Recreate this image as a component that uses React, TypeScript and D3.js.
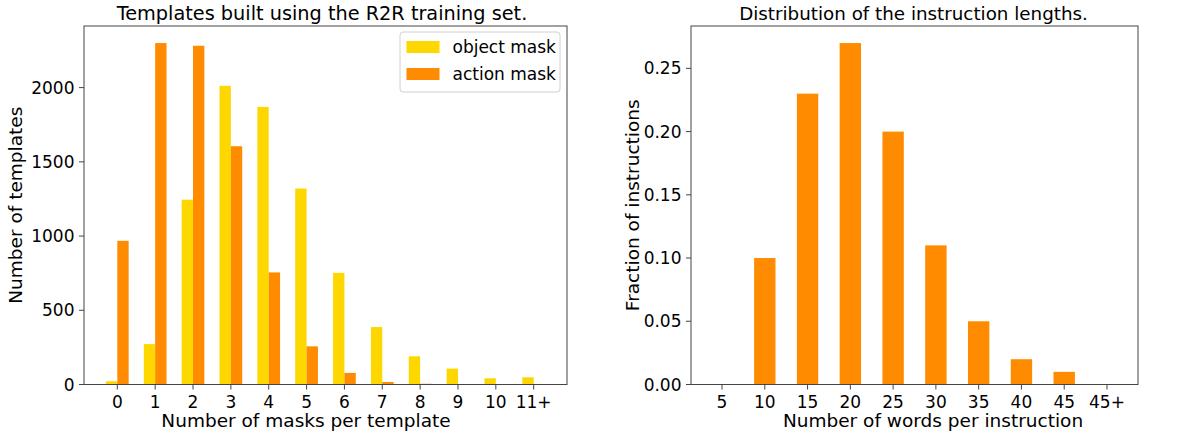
import React from "react";
import * as d3 from "d3";

const W = 1180;
const H = 436;

// Left chart data
const maskCategories = ["0", "1", "2", "3", "4", "5", "6", "7", "8", "9", "10", "11+"];
const objectMask = [22, 272, 1245, 2012, 1870, 1320, 752, 387, 190, 107, 42, 49];
const actionMask = [968, 2300, 2282, 1605, 755, 257, 78, 17, 5, 0, 0, 0];
const leftYTicks = [0, 500, 1000, 1500, 2000];

// Right chart data
const wordCategories = ["5", "10", "15", "20", "25", "30", "35", "40", "45", "45+"];
const wordFractions = [0, 0.1, 0.23, 0.27, 0.2, 0.11, 0.05, 0.02, 0.01, 0];
const rightYTicks = [0, 0.05, 0.1, 0.15, 0.2, 0.25];

const GOLD = "#FFD700";
const ORANGE = "#FF8C00";
const FONT = "DejaVu Sans, sans-serif";
const AXIS = "#444";
const TICK_FS = 17;
const LABEL_FS = 18.5;
const TITLE_FS_L = 19.3;
const TITLE_FS_R = 18.3;

const TOP = 26;
const BOTTOM = 384.5;

function Frame({ x0, x1 }: { x0: number; x1: number }) {
  return (
    <rect x={x0} y={TOP} width={x1 - x0} height={BOTTOM - TOP} fill="none" stroke={AXIS} strokeWidth={1} />
  );
}

export default function App() {
  // Left chart scales
  const lx0 = 84, lx1 = 567;
  const lBarW = 0.3;
  const ln = maskCategories.length;
  const lSpan = ln - 1 + 2 * lBarW;
  const lMax = d3.max([...objectMask, ...actionMask]) as number;
  const lx = d3.scaleLinear().domain([-lBarW - 0.05 * lSpan, ln - 1 + lBarW + 0.05 * lSpan]).range([lx0, lx1]);
  const ly = d3.scaleLinear().domain([0, lMax * 1.05]).range([BOTTOM, TOP]);

  // Right chart scales
  const rx0 = 691, rx1 = 1138;
  const rBarW = 0.5;
  const rn = wordCategories.length;
  const rSpan = rn - 1 + rBarW;
  const rMax = d3.max(wordFractions) as number;
  const rx = d3.scaleLinear().domain([-rBarW / 2 - 0.05 * rSpan, rn - 1 + rBarW / 2 + 0.05 * rSpan]).range([rx0, rx1]);
  const ry = d3.scaleLinear().domain([0, rMax * 1.05]).range([BOTTOM, TOP]);
  const fmt = d3.format(".2f");

  const TL = 5;

  // Legend geometry
  const legR = lx1 - 7;
  const legT = TOP + 6;
  const legW = 160;
  const legH = 60;
  const legL = legR - legW;

  return (
    <svg width={W} height={H} style={{ position: "absolute", left: 0, top: 0, background: "#fff" }} fontFamily={FONT}>
      <rect x={0} y={0} width={W} height={H} fill="#fff" />

      {/* ===== LEFT CHART ===== */}
      <text x={322} y={20} textAnchor="middle" fontSize={TITLE_FS_L} fill="#000">
        Templates built using the R2R training set.
      </text>
      {maskCategories.map((c, i) => (
        <g key={"lb" + c}>
          <rect x={lx(i - lBarW)} y={ly(objectMask[i])} width={lx(i) - lx(i - lBarW)} height={BOTTOM - ly(objectMask[i])} fill={GOLD} />
          <rect x={lx(i)} y={ly(actionMask[i])} width={lx(i + lBarW) - lx(i)} height={BOTTOM - ly(actionMask[i])} fill={ORANGE} />
        </g>
      ))}
      <Frame x0={lx0} x1={lx1} />
      {maskCategories.map((c, i) => (
        <g key={"lxt" + c}>
          <line x1={lx(i)} x2={lx(i)} y1={BOTTOM} y2={BOTTOM + TL} stroke={AXIS} />
          <text x={lx(i)} y={407.5} textAnchor="middle" fontSize={TICK_FS} fill="#000">{c}</text>
        </g>
      ))}
      {leftYTicks.map((t) => (
        <g key={"lyt" + t}>
          <line x1={lx0 - TL} x2={lx0} y1={ly(t)} y2={ly(t)} stroke={AXIS} />
          <text x={lx0 - TL - 4.5} y={ly(t)} dy="0.36em" textAnchor="end" fontSize={TICK_FS} fill="#000">{t}</text>
        </g>
      ))}
      <text x={306} y={427} textAnchor="middle" fontSize={LABEL_FS} fill="#000">
        Number of masks per template
      </text>
      <text transform={`translate(22,${(TOP + BOTTOM) / 2}) rotate(-90)`} textAnchor="middle" fontSize={LABEL_FS} fill="#000">
        Number of templates
      </text>

      {/* Legend */}
      <rect x={legL} y={legT} width={legW} height={legH} rx={3} fill="#fff" fillOpacity={0.8} stroke="#d0d0d0" strokeWidth={1} />
      <rect x={legL + 6.5} y={47 - 6} width={33} height={12} fill={GOLD} />
      <text x={legL + 6.5 + 33 + 13} y={47} dy="0.36em" fontSize={TICK_FS} fill="#000">object mask</text>
      <rect x={legL + 6.5} y={74 - 6} width={33} height={12} fill={ORANGE} />
      <text x={legL + 6.5 + 33 + 13} y={74} dy="0.36em" fontSize={TICK_FS} fill="#000">action mask</text>

      {/* ===== RIGHT CHART ===== */}
      <text x={913.5} y={20} textAnchor="middle" fontSize={TITLE_FS_R} fill="#000">
        Distribution of the instruction lengths.
      </text>
      {wordCategories.map((c, i) => (
        <rect key={"rb" + c} x={rx(i - rBarW / 2)} y={ry(wordFractions[i])} width={rx(i + rBarW / 2) - rx(i - rBarW / 2)} height={BOTTOM - ry(wordFractions[i])} fill={ORANGE} />
      ))}
      <Frame x0={rx0} x1={rx1} />
      {wordCategories.map((c, i) => (
        <g key={"rxt" + c}>
          <line x1={rx(i)} x2={rx(i)} y1={BOTTOM} y2={BOTTOM + TL} stroke={AXIS} />
          <text x={rx(i)} y={407.5} textAnchor="middle" fontSize={TICK_FS} fill="#000">{c}</text>
        </g>
      ))}
      {rightYTicks.map((t) => (
        <g key={"ryt" + t}>
          <line x1={rx0 - TL} x2={rx0} y1={ry(t)} y2={ry(t)} stroke={AXIS} />
          <text x={rx0 - TL - 4.5} y={ry(t)} dy="0.36em" textAnchor="end" fontSize={TICK_FS} fill="#000">{fmt(t)}</text>
        </g>
      ))}
      <text x={933} y={427} textAnchor="middle" fontSize={LABEL_FS} fill="#000">
        Number of words per instruction
      </text>
      <text transform={`translate(639,${(TOP + BOTTOM) / 2}) rotate(-90)`} textAnchor="middle" fontSize={LABEL_FS} fill="#000">
        Fraction of instructions
      </text>
    </svg>
  );
}
